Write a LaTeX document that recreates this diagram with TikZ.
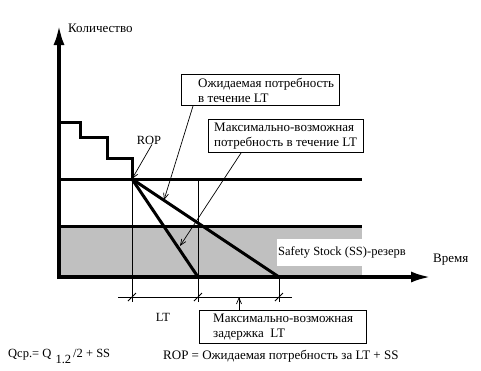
\documentclass[tikz,border=0pt]{standalone}
\usepackage{fontspec}
\setmainfont{Liberation Serif}
\usetikzlibrary{arrows.meta,positioning}
\definecolor{SSGray}{HTML}{C0C0C0}

\tikzset{
  axis/.style={line width=3.5pt,-{Latex[length=20pt,width=11pt]}},
  stockline/.style={line width=3pt},
  thinline/.style={line width=0.8pt},
  pointer/.style={line width=0.7pt,-{Straight Barb[length=6pt,width=5pt]}},
  msgbox/.style={draw,line width=1pt,anchor=north west,inner sep=0pt},
  msgtext/.style={anchor=west,align=left,inner sep=0pt,font=\fontsize{13}{15}\selectfont},
  lbl/.style={inner sep=0pt,font=\fontsize{12.5}{14}\selectfont}
}

\begin{document}
\begin{tikzpicture}[x=1pt,y=-1pt]
  \useasboundingbox (0,0) rectangle (481,370);
  % key points
  \coordinate (ytop) at (59,25);
  \coordinate (xend) at (431,277);
  \coordinate (rop) at (132,179);
  \coordinate (ltend) at (198,277);
  \coordinate (maxend) at (279,277);

  % safety stock band
  \fill[SSGray] (60,226) rectangle (362,277);
  \node[lbl,fill=white,anchor=west,minimum height=27pt,inner xsep=1pt]
    (ss) at (277,252) {Safety Stock (SS)-резерв};

  \draw[stockline] (57,179) -- (362,179);
  \draw[stockline] (57,226) -- (362,226);
  \draw[stockline] (59,122) -| (80,137) -| (107,158) -| (rop);
  \draw[stockline] (rop) -- (ltend);
  \draw[stockline] (rop) -- (maxend);

  % lead time marks
  \draw[thinline] (rop) -- ++(0,123);
  \draw[thinline] (ltend |- rop) -- ++(0,123);
  \draw[thinline] (maxend) -- ++(0,25);
  \draw[thinline] (118,297) -- (292,297);
  \foreach \x in {132,198,279}
    \draw[thinline] (\x-4,301) -- (\x+4,293);

  \draw[axis] (59,279) -- (ytop);
  \draw[axis] (57,277) -- (xend);
  \node[lbl,anchor=west,font=\fontsize{13}{14}\selectfont] (qty) at (68,28) {Количество};
  \node[lbl,anchor=west,font=\fontsize{13}{14}\selectfont] (time) at (433,260) {Время};

  \node[lbl] (roplbl) at (149,140) {ROP};
  \draw[pointer] ([xshift=3pt]roplbl.south) -- (rop);

  % callouts
  \node[msgbox,minimum width=158pt,minimum height=31pt] (expbox) at (181,74) {};
  \node[msgtext] (exptext) at ([xshift=17pt]expbox.west)
    {Ожидаемая потребность\\в течение LT};
  \node[msgbox,minimum width=155pt,minimum height=33pt] (maxbox) at (208,119) {};
  \node[msgtext] (maxtext) at ([xshift=6pt]maxbox.west)
    {Максимально-возможная\\потребность в течение LT};
  \node[msgbox,minimum width=167pt,minimum height=33pt] (delaybox) at (199,310) {};
  \node[msgtext] (delaytext) at ([xshift=14pt]delaybox.west)
    {Максимально-возможная\\задержка\ \ LT};

  \coordinate (expmark) at (164,200);
  \coordinate (maxmark) at (180,246);
  \coordinate (delaymark) at (239,297);
  \draw[pointer] ([xshift=12pt]expbox.south west) -- (expmark);
  \draw[pointer] ([xshift=33pt]maxbox.south west) -- (maxmark);
  \draw[pointer] ([xshift=40pt]delaybox.north west) -- (delaymark);

  \node[lbl] (ltlbl) at (163,317) {LT};
  \node[lbl,anchor=west] (qavg) at (8,356)
    {Qср.= Q\,\raisebox{-6pt}{\,1.2}\,/2 + SS};
  \node[lbl,anchor=west,font=\fontsize{13}{14}\selectfont] (ropdef) at (163,356)
    {ROP = Ожидаемая потребность за LT + SS};
\end{tikzpicture}
\end{document}
